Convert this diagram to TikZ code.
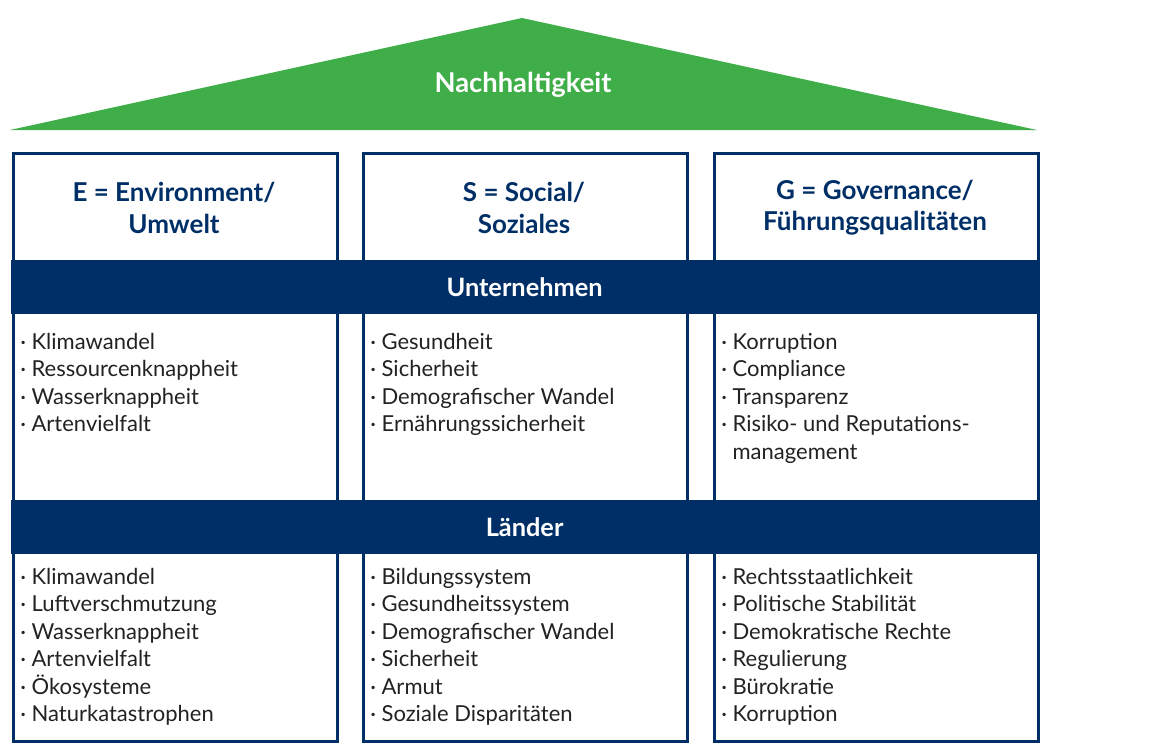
\documentclass[tikz,border=0pt]{standalone}
\usepackage{fontspec}
\setmainfont{Lato}
\usepackage{xcolor}
\definecolor{navy}{HTML}{002F67}
\definecolor{leaf}{HTML}{3FAE49}
\definecolor{ink}{HTML}{222222}
\tikzset{
  colbox/.style={draw=navy, line width=2.4pt, anchor=north west, minimum width=243pt, minimum height=441pt, inner sep=0pt},
  band/.style={fill=navy, anchor=north west, minimum width=770pt, minimum height=40.5pt, inner sep=0pt, text=white, font=\fontsize{19}{22}\selectfont\bfseries},
  headtxt/.style={text=navy, align=center, font=\fontsize{19.5}{23.5}\selectfont\bfseries},
  itemlist/.style={text=ink, anchor=north west, align=left, inner sep=0pt, font=\fontsize{16.5}{20.6}\selectfont}
}
\begin{document}
\begin{tikzpicture}[x=0.75pt, y=-0.75pt]
            \useasboundingbox (0,0) rectangle (1152,751);
            \fill[leaf] (10,130) -- (522,18) -- (1037,130) -- cycle;
            \node[text=white, font=\fontsize{20.5}{24}\selectfont\bfseries](roof) at (523,85){Nachhaltigkeit};
            % columns
            \node[colbox](colE) at (12,152){};
            \node[colbox](colS) at (362,152){};
            \node[colbox](colG) at (713,152){};
            \node[headtxt](headE) at (174,208){E = Environment/\\Umwelt};
            \node[headtxt](headS) at (524,208){S = Social/\\Soziales};
            \node[headtxt](headG) at (875,208){G = Governance/\\Führungsqualitäten};
            % bands
            \node[band](bandU) at (11,260){Unternehmen};
            \node[band](bandL) at (11,500){Länder};
            % upper lists
            \node[itemlist](listE1) at (20,333){· Klimawandel\\· Ressourcenknappheit\\· Wasserknappheit\\· Artenvielfalt};
            \node[itemlist](listS1) at (370,333){· Gesundheit\\· Sicherheit\\· Demografischer Wandel\\· Ernährungssicherheit};
            \node[itemlist](listG1) at (721,333){· Korruption\\· Compliance\\· Transparenz\\· Risiko- und Reputations-\\\phantom{·} management};
            % lower lists
            \node[itemlist](listE2) at (20,568){· Klimawandel\\· Luftverschmutzung\\· Wasserknappheit\\· Artenvielfalt\\· Ökosysteme\\· Naturkatastrophen};
            \node[itemlist](listS2) at (370,568){· Bildungssystem\\· Gesundheitssystem\\· Demografischer Wandel\\· Sicherheit\\· Armut\\· Soziale Disparitäten};
            \node[itemlist](listG2) at (721,568){· Rechtsstaatlichkeit\\· Politische Stabilität\\· Demokratische Rechte\\· Regulierung\\· Bürokratie\\· Korruption};
        \end{tikzpicture}
\end{document}
